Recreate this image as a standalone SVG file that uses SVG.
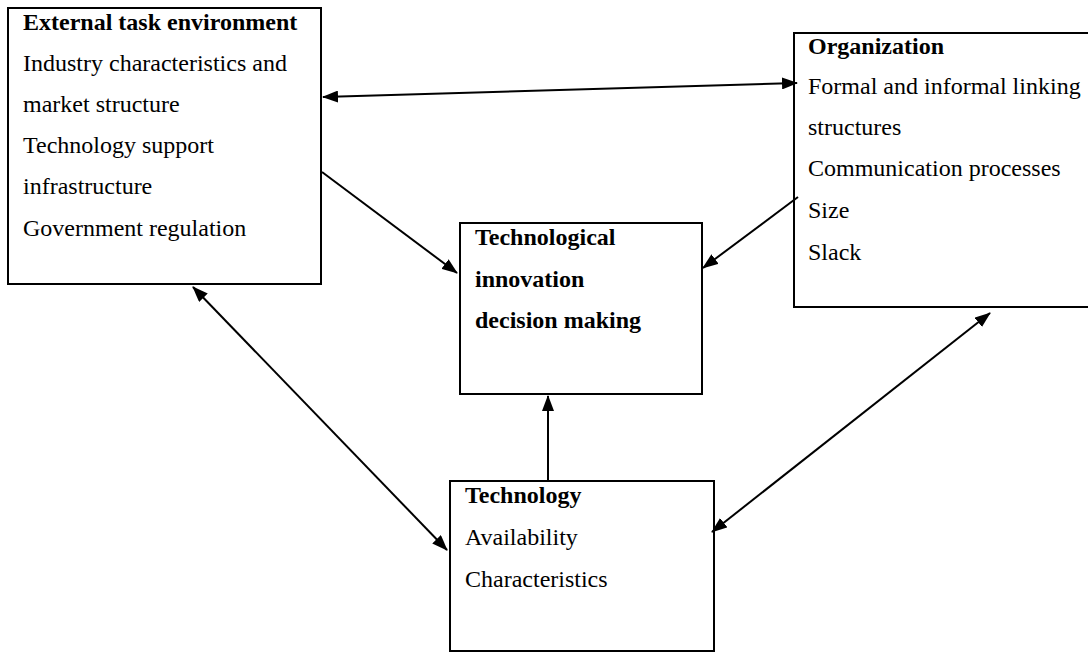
<svg xmlns="http://www.w3.org/2000/svg" width="1088" height="652" viewBox="0 0 1088 652">
<style>
.box{fill:#fff;stroke:#000;stroke-width:2}
.t{font-family:"Liberation Serif","Times New Roman",serif;font-size:24px;fill:#000}
.b{font-weight:bold}
.c{stroke:#000;stroke-width:2;fill:none}
</style>
<defs>
<marker id="ah" markerUnits="userSpaceOnUse" markerWidth="16" markerHeight="12" refX="15" refY="6" orient="auto-start-reverse">
<path d="M0,0 L16,6 L0,12 z" fill="#000"/>
</marker>
</defs>
<rect width="1088" height="652" fill="#fff"/>
<g id="external">
<rect class="box" x="8" y="8" width="313" height="276"/>
<text class="t b" x="23" y="30">External task environment</text>
<text class="t" x="23" y="71">Industry characteristics and</text>
<text class="t" x="23" y="112">market structure</text>
<text class="t" x="23" y="153">Technology support</text>
<text class="t" x="23" y="194">infrastructure</text>
<text class="t" x="23" y="236">Government regulation</text>
</g>
<g id="organization">
<rect class="box" x="794" y="33" width="310" height="274"/>
<text class="t b" x="808" y="54">Organization</text>
<text class="t" x="808" y="94">Formal and informal linking</text>
<text class="t" x="808" y="135">structures</text>
<text class="t" x="808" y="176">Communication processes</text>
<text class="t" x="808" y="218">Size</text>
<text class="t" x="808" y="260">Slack</text>
</g>
<g id="decision">
<rect class="box" x="460" y="223" width="242" height="171"/>
<text class="t b" x="475" y="245">Technological</text>
<text class="t b" x="475" y="287">innovation</text>
<text class="t b" x="475" y="328">decision making</text>
</g>
<g id="technology">
<rect class="box" x="450" y="481" width="264" height="170"/>
<text class="t b" x="465" y="503">Technology</text>
<text class="t" x="465" y="545">Availability</text>
<text class="t" x="465" y="587">Characteristics</text>
</g>
<g id="connectors">
<line class="c" x1="323" y1="97" x2="797" y2="83" marker-start="url(#ah)" marker-end="url(#ah)"/>
<line class="c" x1="322" y1="172" x2="457" y2="273" marker-end="url(#ah)"/>
<line class="c" x1="798" y1="197" x2="703" y2="268" marker-end="url(#ah)"/>
<line class="c" x1="548" y1="481" x2="548" y2="396" marker-end="url(#ah)"/>
<line class="c" x1="193" y1="287" x2="447" y2="550" marker-start="url(#ah)" marker-end="url(#ah)"/>
<line class="c" x1="712" y1="532" x2="990" y2="313" marker-start="url(#ah)" marker-end="url(#ah)"/>
</g>
</svg>
